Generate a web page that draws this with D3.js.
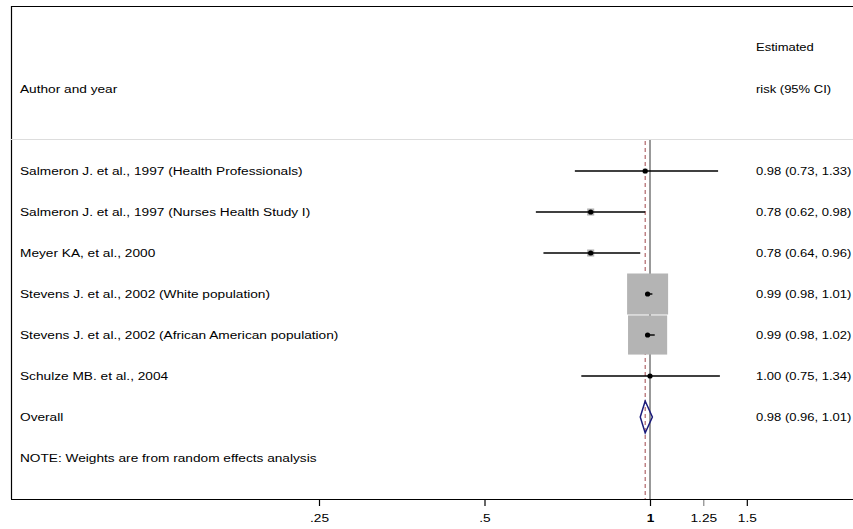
<!DOCTYPE html>
<html><head><meta charset="utf-8">
<script src="https://cdn.jsdelivr.net/npm/d3@7"></script>
<style>body{margin:0;background:#fff}svg{display:block}text{font-family:"Liberation Sans",Arial,sans-serif}</style>
</head><body>
<script>
const studies = [
  "Salmeron J. et al., 1997 (Health Professionals)",
  "Salmeron J. et al., 1997 (Nurses Health Study I)",
  "Meyer KA, et al., 2000",
  "Stevens J. et al., 2002 (White population)",
  "Stevens J. et al., 2002 (African American population)",
  "Schulze MB. et al., 2004"
];
const est = [0.98, 0.78, 0.78, 0.99, 0.99, 1.00];
const lo  = [0.73, 0.62, 0.64, 0.98, 0.98, 0.75];
const hi  = [1.33, 0.98, 0.96, 1.01, 1.02, 1.34];
const weights = [0.7, 1.5, 1.5, 50.5, 46.0, 0.3];
const overall = {label: "Overall", est: 0.98, lo: 0.96, hi: 1.01};
const tickValues = [0.25, 0.5, 1, 1.25, 1.5];
const tickLabels = [".25", ".5", "1", "1.25", "1.5"];

const W = 853, H = 529;
const FS = 11.5, SX = 1.19, SXR = 1.13;
const svg = d3.select("body").append("svg").attr("width", W).attr("height", H);

function label(xp, yp, str, sx) {
  return svg.append("text").attr("transform", `translate(${xp},${yp}) scale(${sx || SX},1)`)
    .attr("font-size", FS).attr("fill", "#000").text(str);
}

const x = d3.scaleLog().domain([0.25, 1]).range([319, 650]);
const rows = [...studies, overall.label, "note"];
const y = d3.scalePoint().domain(d3.range(rows.length)).range([171, 458]);

// frame
svg.append("line").attr("x1", 11).attr("x2", W).attr("y1", 6.5).attr("y2", 6.5).attr("stroke", "#000").attr("stroke-width", 1.2);
svg.append("line").attr("x1", 11.5).attr("x2", 11.5).attr("y1", 6).attr("y2", 499).attr("stroke", "#000").attr("stroke-width", 1.2);
svg.append("line").attr("x1", 11).attr("x2", W).attr("y1", 139.5).attr("y2", 139.5).attr("stroke", "#ddd").attr("stroke-width", 1);

// headers
label(20, 93, "Author and year");
label(756, 51, "Estimated", SXR);
label(756, 93, "risk (95% CI)", SXR);

// reference lines
svg.append("line").attr("x1", x(1)).attr("x2", x(1)).attr("y1", 140).attr("y2", 499).attr("stroke", "#555").attr("stroke-width", 1.2);
svg.append("line").attr("x1", x(overall.est)).attr("x2", x(overall.est)).attr("y1", 141).attr("y2", 499)
  .attr("stroke", "#a0464b").attr("stroke-width", 1).attr("stroke-dasharray", "4,3");

// boxes
const side = d3.scaleSqrt().domain([0, d3.max(weights)]).range([0, 41]);
studies.forEach((s, i) => {
  const cy = y(i), s2 = side(weights[i]);
  svg.append("rect").attr("x", x(est[i]) - s2 / 2).attr("y", cy - s2 / 2).attr("width", s2).attr("height", s2).attr("fill", "#b4b4b4");
  svg.append("line").attr("x1", x(lo[i])).attr("x2", x(hi[i])).attr("y1", cy).attr("y2", cy).attr("stroke", "#000").attr("stroke-width", 1.4);
  svg.append("circle").attr("cx", x(est[i])).attr("cy", cy).attr("r", 2.6).attr("fill", "#000");
  label(20, cy + 4, s);
  label(756, cy + 4, `${est[i].toFixed(2)} (${lo[i].toFixed(2)}, ${hi[i].toFixed(2)})`, SXR);
});

// overall diamond
const oy = y(studies.length);
svg.append("path").attr("d", `M${x(overall.lo)},${oy} L${x(overall.est)},${oy - 16} L${x(overall.hi)},${oy} L${x(overall.est)},${oy + 16} Z`)
  .attr("fill", "none").attr("stroke", "#1a1a7a").attr("stroke-width", 1.5);
label(20, oy + 4, overall.label);
label(756, oy + 4, `${overall.est.toFixed(2)} (${overall.lo.toFixed(2)}, ${overall.hi.toFixed(2)})`, SXR);

label(20, y(rows.length - 1) + 4, "NOTE: Weights are from random effects analysis");

// axis
const axis = d3.axisBottom(x).tickValues(tickValues).tickFormat((d, i) => tickLabels[i]).tickSize(7).tickPadding(4).tickSizeOuter(0);
const ag = svg.append("g").attr("transform", "translate(0,499)").call(axis);
ag.select(".domain").remove();
ag.selectAll(".tick text").attr("font-size", FS).attr("font-family", "Liberation Sans, Arial, sans-serif").attr("fill", "#000")
  .attr("dy", "1.05em")
  .attr("transform", `scale(${SX},1)`)
  .attr("font-weight", d => d === 1 ? "bold" : "normal");
ag.selectAll(".tick line").attr("stroke", d => d === 1.25 ? "#888" : "#000").attr("stroke-width", 1.2);
svg.append("line").attr("x1", 11).attr("x2", W).attr("y1", 499.5).attr("y2", 499.5).attr("stroke", "#000").attr("stroke-width", 1.2);
</script>
</body></html>
